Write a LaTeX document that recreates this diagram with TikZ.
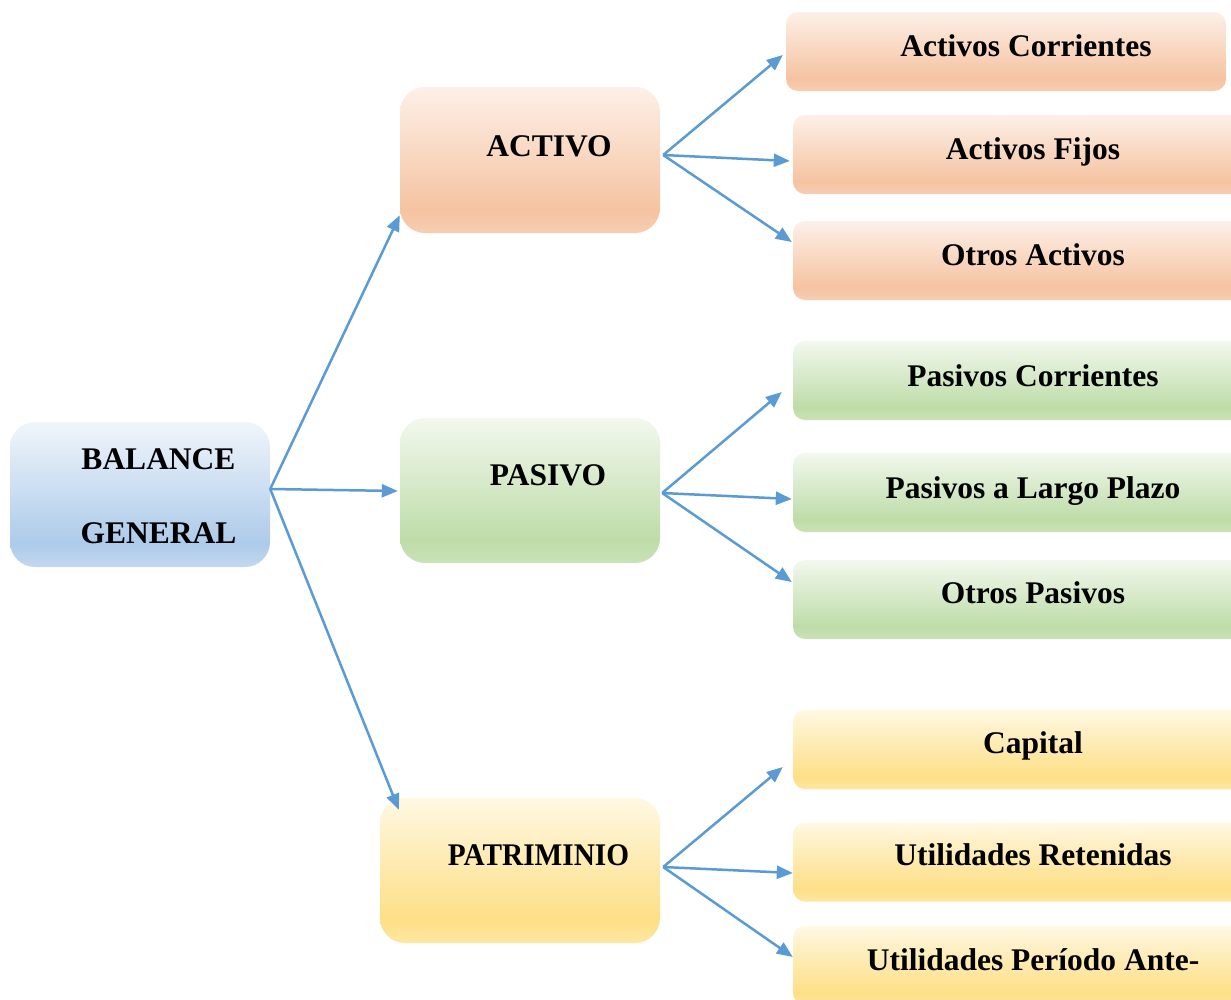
\documentclass[tikz,border=0pt]{standalone}
\usepackage{fontspec}
\setmainfont{Liberation Serif}
\usetikzlibrary{arrows.meta,calc}
\definecolor{oT}{HTML}{FDF0E8}\definecolor{oD}{HTML}{F5C3A1}\definecolor{oB}{HTML}{F7CDB2}
\definecolor{gT}{HTML}{F2F8EE}\definecolor{gD}{HTML}{BEDCA8}\definecolor{gB}{HTML}{C9E2B7}
\definecolor{bT}{HTML}{F0F5FB}\definecolor{bD}{HTML}{ADCBEA}\definecolor{bB}{HTML}{C3D8EF}
\definecolor{yT}{HTML}{FFF8E3}\definecolor{yD}{HTML}{FDDF86}\definecolor{yB}{HTML}{FEE7A2}
\definecolor{arr}{HTML}{5B9BD5}
\pgfdeclareverticalshading{orsh}{100bp}{color(0bp)=(oB); color(25bp)=(oB); color(33bp)=(oD); color(75bp)=(oT); color(100bp)=(oT)}
\pgfdeclareverticalshading{grsh}{100bp}{color(0bp)=(gB); color(25bp)=(gB); color(33bp)=(gD); color(75bp)=(gT); color(100bp)=(gT)}
\pgfdeclareverticalshading{blsh}{100bp}{color(0bp)=(bB); color(25bp)=(bB); color(33bp)=(bD); color(75bp)=(bT); color(100bp)=(bT)}
\pgfdeclareverticalshading{yesh}{100bp}{color(0bp)=(yB); color(25bp)=(yB); color(33bp)=(yD); color(75bp)=(yT); color(100bp)=(yT)}
\tikzset{
  bigbox/.style={rectangle, rounded corners=25pt, minimum width=260pt, minimum height=145pt, inner sep=0pt, draw=none},
  smallbox/.style={rectangle, rounded corners=12pt, minimum width=452pt, minimum height=79pt, inner sep=0pt, draw=none},
  lbl/.style={anchor=base, inner sep=0pt, font=\fontsize{31.5}{36}\selectfont\bfseries},
  conn/.style={draw=arr, line width=2.5pt, -{Triangle[length=16pt,width=13pt]}},
}
\begin{document}
\begin{tikzpicture}[x=1pt,y=-1pt]
\clip (0,0) rectangle (1231,999);
\fill[white] (0,0) rectangle (1231,999);
% main boxes
\node[bigbox, shading=blsh] (bal) at (140,494.5) {};
\node[bigbox, shading=orsh, minimum height=146pt] (act) at (530,160) {};
\node[bigbox, shading=grsh] (pas) at (530,490.5) {};
\node[bigbox, shading=yesh, minimum width=280pt] (pat) at (520,870.5) {};
% right boxes
\node[smallbox, shading=orsh, minimum width=440pt] (ac1) at (1006,51.5) {};
\node[smallbox, shading=orsh] (ac2) at (1019,154.5) {};
\node[smallbox, shading=orsh] (ac3) at (1019,260.5) {};
\node[smallbox, shading=grsh] (pa1) at (1019,380.5) {};
\node[smallbox, shading=grsh] (pa2) at (1019,492.5) {};
\node[smallbox, shading=grsh] (pa3) at (1019,599.5) {};
\node[smallbox, shading=yesh] (pt1) at (1019,749.5) {};
\node[smallbox, shading=yesh] (pt2) at (1019,862) {};
\node[smallbox, shading=yesh] (pt3) at (1019,965.5) {};
% labels
\node[lbl] (balT1) at (158.5,469) {BALANCE};
\node[lbl] (balT2) at (158.5,543) {GENERAL};
\node[lbl] (actT) at (549,156) {ACTIVO};
\node[lbl] (pasT) at (548,485) {PASIVO};
\node[lbl, xscale=0.93] (patT) at (538.5,865) {PATRIMINIO};
\node[lbl] (ac1T) at (1026,56) {Activos Corrientes};
\node[lbl] (ac2T) at (1033,159) {Activos Fijos};
\node[lbl] (ac3T) at (1033,265) {Otros Activos};
\node[lbl] (pa1T) at (1033,386) {Pasivos Corrientes};
\node[lbl] (pa2T) at (1033,498) {Pasivos a Largo Plazo};
\node[lbl] (pa3T) at (1033,603) {Otros Pasivos};
\node[lbl] (pt1T) at (1033,753) {Capital};
\node[lbl] (pt2T) at (1033,865) {Utilidades Retenidas};
\node[lbl] (pt3T) at (1033,970) {Utilidades Período Ante-};
% fork points
\coordinate (fb) at ($(bal.east)+(0,-5.5)$);
\coordinate (fa) at ($(act.east)+(3,-5)$);
\coordinate (fp) at ($(pas.east)+(2,2.5)$);
\coordinate (ft) at ($(pat.east)+(3,-3.5)$);
% connectors
\draw[conn] (fb) -- ($(act.south west)+(0,-18)$);
\draw[conn] (fb) -- ($(pas.west)+(-2,0.5)$);
\draw[conn] (fb) -- ($(pat.north west)+(19,12)$);
\draw[conn] (fa) -- ($(ac1.west)+(-3,3.5)$);
\draw[conn] (fa) -- ($(ac2.west)+(-3,6.5)$);
\draw[conn] (fa) -- ($(ac3.west)+(-1,-18.5)$);
\draw[conn] (fp) -- ($(pa1.west)+(-11,11.5)$);
\draw[conn] (fp) -- ($(pa2.west)+(-1,6.5)$);
\draw[conn] (fp) -- ($(pa3.west)+(-1,-17.5)$);
\draw[conn] (ft) -- ($(pt1.west)+(-10,17.5)$);
\draw[conn] (ft) -- ($(pt2.west)+(0,11)$);
\draw[conn] (ft) -- ($(pt3.west)+(0,-8.5)$);
\end{tikzpicture}
\end{document}
